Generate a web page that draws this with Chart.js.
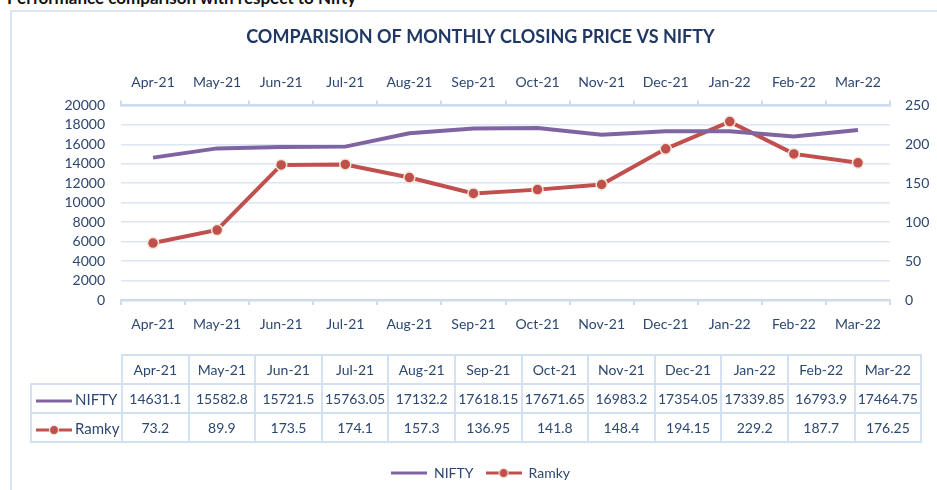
<!DOCTYPE html>
<html>
<head>
<meta charset="utf-8">
<script src="https://cdn.jsdelivr.net/npm/chart.js@4.4.1/dist/chart.umd.min.js"></script>
<style>
  body { margin: 0; background: #fff; font-family: Lato, "Open Sans", sans-serif; }
  #wrap { position: relative; width: 937px; height: 490px; overflow: hidden; }
  #heading { position: absolute; left: 7px; top: -13px; font-size: 17px; font-weight: bold; color: #111; white-space: nowrap; }
  #frame { position: absolute; left: 10px; top: 10px; width: 1000px; height: 600px; border: 2px solid #dce6f2; }
  #chartBox { position: absolute; left: 0; top: 0; width: 961px; height: 490px; }
  #dataTable { position: absolute; left: 30px; top: 354px; border-collapse: collapse; color: #2c4770; font-size: 14px; }
  #dataTable td { border: 2px solid #d3e0f1; text-align: center; height: 27px; padding: 0; width: 64.6px; white-space: nowrap; }
  #dataTable td.lab { width: 89px; text-align: left; padding-left: 0; font-size: 15px; }
  #dataTable td.blank { border: none; }
  .sw { display: inline-block; vertical-align: middle; margin: 0 3px 0 4px; }
</style>
</head>
<body>
<div id="wrap">
  <div id="heading">Performance comparison with respect to Nifty</div>
  <div id="frame"></div>
  <div id="chartBox"><canvas id="chart" width="961" height="490"></canvas></div>
  <table id="dataTable"></table>
</div>
<script>
// monthly closing values
const months = ["Apr-21", "May-21", "Jun-21", "Jul-21", "Aug-21", "Sep-21", "Oct-21", "Nov-21", "Dec-21", "Jan-22", "Feb-22", "Mar-22"];
const nifty = [14631.1, 15582.8, 15721.5, 15763.05, 17132.2, 17618.15, 17671.65, 16983.2, 17354.05, 17339.85, 16793.9, 17464.75];
const ramky = [73.2, 89.9, 173.5, 174.1, 157.3, 136.95, 141.8, 148.4, 194.15, 229.2, 187.7, 176.25];

const PURPLE = "#8064a2";
const RED = "#c0504d";
const TEXT = "#2c4770";
const GRID = "#dbe5f3";

// little swatch images (line, or line with dot) for legend and table
function swatch(color, dot) {
  const c = document.createElement("canvas");
  c.width = 36; c.height = 12;
  const ctx = c.getContext("2d");
  ctx.strokeStyle = color;
  ctx.lineWidth = 3;
  ctx.beginPath(); ctx.moveTo(0, 6); ctx.lineTo(36, 6); ctx.stroke();
  if (dot) {
    ctx.beginPath(); ctx.arc(18, 6, 4.5, 0, Math.PI * 2);
    ctx.fillStyle = color; ctx.fill();
    ctx.strokeStyle = "#f3e7d6"; ctx.lineWidth = 1.2; ctx.stroke();
  }
  return c;
}
const niftySw = swatch(PURPLE, false);
const ramkySw = swatch(RED, true);

// data table under the plot
const table = document.getElementById("dataTable");
function row(cells, label, sw) {
  const tr = document.createElement("tr");
  const first = document.createElement("td");
  first.className = label ? "lab" : "lab blank";
  if (label) {
    const img = swatch(sw === "r" ? RED : PURPLE, sw === "r");
    img.className = "sw";
    first.appendChild(img);
    first.appendChild(document.createTextNode(label));
  }
  tr.appendChild(first);
  cells.forEach(v => {
    const td = document.createElement("td");
    td.textContent = v;
    tr.appendChild(td);
  });
  table.appendChild(tr);
}
row(months, null);
row(nifty, "NIFTY", "n");
row(ramky, "Ramky", "r");

const font = { family: "Lato", size: 14 };

new Chart(document.getElementById("chart"), {
  type: "line",
  data: {
    labels: months,
    datasets: [
      {
        label: "NIFTY",
        data: nifty,
        yAxisID: "y",
        xAxisID: "x",
        borderColor: PURPLE,
        backgroundColor: PURPLE,
        borderWidth: 4,
        pointRadius: 0,
        tension: 0,
      },
      {
        label: "Ramky",
        data: ramky,
        yAxisID: "y1",
        xAxisID: "x",
        borderColor: RED,
        backgroundColor: RED,
        borderWidth: 4,
        pointRadius: 5.5,
        pointBackgroundColor: RED,
        pointBorderColor: "#f3e7d6",
        pointBorderWidth: 1.5,
        tension: 0,
      },
    ],
  },
  options: {
    responsive: false,
    animation: false,
    layout: { padding: 0 },
    plugins: {
      title: {
        display: true,
        text: "COMPARISION OF MONTHLY CLOSING PRICE VS NIFTY",
        color: "#1f3864",
        font: { family: "Lato", size: 18, weight: "bold" },
        padding: { top: 26, bottom: 16 },
      },
      legend: {
        position: "bottom",
        labels: {
          color: TEXT,
          font: font,
          usePointStyle: true,
          pointStyleWidth: 36,
          padding: 12,
          generateLabels: function (chart) {
            return chart.data.datasets.map((ds, i) => ({
              text: ds.label,
              fontColor: TEXT,
              pointStyle: i === 0 ? niftySw : ramkySw,
              datasetIndex: i,
              hidden: false,
              lineWidth: 0,
            }));
          },
        },
      },
      tooltip: { enabled: false },
    },
    scales: {
      x: {
        type: "category",
        position: "bottom",
        offset: true,
        grid: { drawOnChartArea: false, offset: true, color: "#cddbee", tickLength: 5, lineWidth: 2 },
        border: { color: "#cddbee", width: 2.5 },
        ticks: { color: TEXT, font: font, padding: 11, maxRotation: 0, autoSkip: false },
        afterFit: function (scale) { scale.height = 154; },
      },
      xTop: {
        type: "category",
        position: "top",
        offset: true,
        labels: months,
        grid: { drawOnChartArea: false, offset: true, color: "#cddbee", tickLength: 5, lineWidth: 2 },
        border: { color: "#cddbee", width: 2.5 },
        ticks: { color: TEXT, font: font, padding: 10, maxRotation: 0, autoSkip: false },
      },
      y: {
        position: "left",
        min: 0,
        max: 20000,
        ticks: {
          stepSize: 2000, color: TEXT, font: font, padding: 16, autoSkip: false,
          callback: function (v) { return String(v); },
        },
        grid: { color: GRID, lineWidth: 1.5, drawTicks: false },
        border: { display: false },
        afterFit: function (scale) { scale.width = 121; },
      },
      y1: {
        position: "right",
        min: 0,
        max: 250,
        ticks: {
          stepSize: 50, color: TEXT, font: font, padding: 15, autoSkip: false,
          callback: function (v) { return String(v); },
        },
        grid: { display: false, drawTicks: false },
        border: { display: false },
        // the wider canvas puts title and legend where the (wider) frame centres them
        afterFit: function (scale) { scale.width = 71; },
      },
    },
  },
});
</script>
</body>
</html>
